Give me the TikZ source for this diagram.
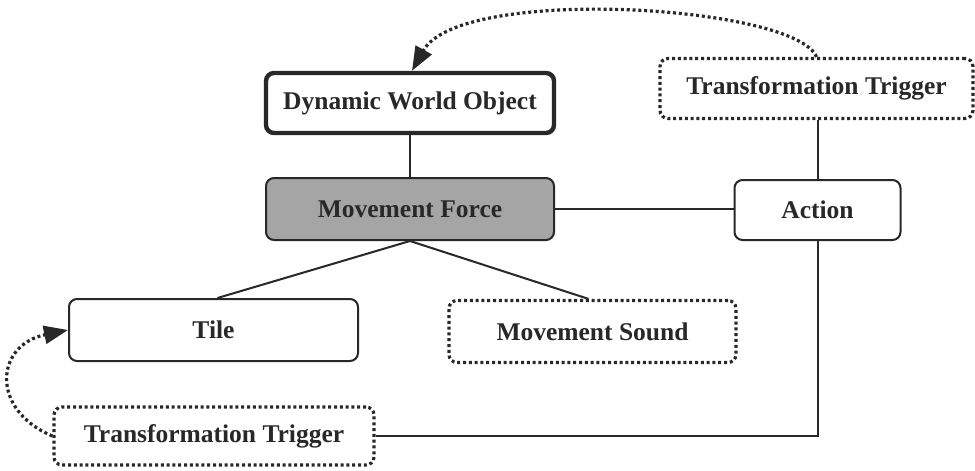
\documentclass[tikz,border=0pt]{standalone}
\usepackage{fontspec}
\setmainfont{Liberation Serif}
\usetikzlibrary{arrows.meta}

\definecolor{ink}{RGB}{40,40,40}
\definecolor{forcegray}{RGB}{165,165,165}

\tikzset{
  box/.style={draw=ink, line width=2pt, rounded corners=8pt, fill=white,
    inner sep=0pt, text=ink,
    font=\fontsize{25.5}{30}\selectfont\bfseries},
  dotborder/.style={line width=3.2pt, dash pattern=on 3pt off 2.8pt},
  heavy/.style={line width=4.4pt},
  wire/.style={draw=ink, line width=2pt},
  loopback/.style={draw=ink, dotborder, rounded corners=0pt,
    -{Triangle[length=24pt,width=18pt]}},
}

\begin{document}
\begin{tikzpicture}[x=1pt,y=-1pt]
  \path[use as bounding box, fill=white] (0,0) rectangle (975,471);

  % components
  \node[box, heavy, minimum width=288pt, minimum height=60pt] (dwo) at (410,103) {Dynamic World Object};
  \node[box, fill=forcegray, minimum width=288pt, minimum height=62pt] (mf) at (410,209) {Movement Force};
  \node[box, minimum width=166pt, minimum height=60pt] (act) at (817.5,210) {Action};
  \node[box, dotborder, minimum width=313pt, minimum height=60pt] (tt1) at (816.5,88.5) {Transformation Trigger};
  \node[box, minimum width=289pt, minimum height=62pt] (tile) at (213.5,330) {Tile};
  \node[box, dotborder, minimum width=287pt, minimum height=62pt] (ms) at (592.5,331.5) {Movement Sound};
  \node[box, dotborder, minimum width=320pt, minimum height=58pt] (tt2) at (214,436) {Transformation Trigger};

  % hierarchy links
  \draw[wire] (dwo.south) -- (mf.north);
  \draw[wire] (mf.east) -- (mf.east -| act.west);
  \draw[wire] (act.north) -- (act.north |- tt1.south);
  \draw[wire] (act.south) |- (tt2.east);
  \draw[wire] (mf.south) -- ([xshift=4pt]tile.north);
  \draw[wire] (mf.south) -- ([xshift=-4pt]ms.north);

  % transformation arcs
  \draw[loopback] (tt1.north) .. controls (795,5) and (460,-15) .. ([xshift=2pt]dwo.north);
  \draw[loopback] (tt2.west) .. controls (-10,410) and (-5,345) .. (tile.west);
\end{tikzpicture}
\end{document}
